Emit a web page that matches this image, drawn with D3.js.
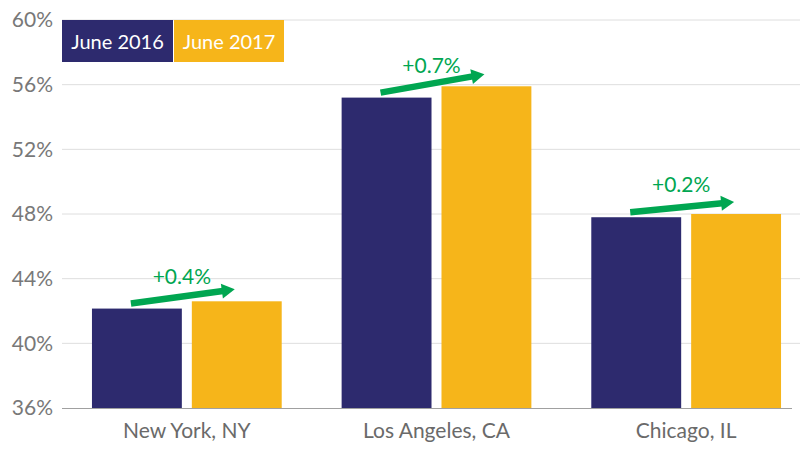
<!DOCTYPE html>
<html><head><meta charset="utf-8">
<script src="https://cdn.jsdelivr.net/npm/d3@7"></script>
<style>body{margin:0;background:#fff}svg{display:block;font-family:Lato,"Open Sans",sans-serif;font-weight:400}</style>
</head><body><svg id="c" width="800" height="450"></svg>
<script>
const categories = ["New York, NY", "Los Angeles, CA", "Chicago, IL"];
const seriesNames = ["June 2016", "June 2017"];
const june2016 = [42.15, 55.2, 47.8];
const june2017 = [42.6, 55.9, 48.0];
const changeLabels = ["+0.4%", "+0.7%", "+0.2%"];
const yTicks = [36, 40, 44, 48, 52, 56, 60];
const colors = ["#2d2a6e", "#f6b51a"];
const green = "#00a651";

const svg = d3.select("#c");
const y = d3.scaleLinear().domain([36, 60]).range([408, 20]);
const x0 = d3.scaleBand().domain(categories).range([62, 811]).paddingInner(0.24).paddingOuter(0.12);
const x1 = d3.scaleBand().domain(seriesNames).range([0, x0.bandwidth()]).paddingInner(0.1);

// grid
const yAxis = d3.axisLeft(y).tickValues(yTicks).tickFormat(d => d + "%").tickSize(0).tickPadding(9);
const ga = svg.append("g").attr("transform", "translate(53,0)").call(yAxis);
ga.select(".domain").remove();
ga.selectAll("text").attr("font-size", 21).attr("fill", "#787878").attr("font-family", "Lato, sans-serif")
  .attr("dx", 9);
svg.append("g").selectAll("line").data(yTicks.filter(t => t > 36)).join("line")
  .attr("x1", 62).attr("x2", 800).attr("y1", d => y(d)).attr("y2", d => y(d))
  .attr("stroke", "#dedede").attr("stroke-width", 1);

const data = categories.map((c, i) => ({c, vals: [june2016[i], june2017[i]], label: changeLabels[i]}));

const groups = svg.append("g").selectAll("g").data(data).join("g")
  .attr("transform", d => `translate(${x0(d.c)},0)`);
groups.selectAll("rect").data(d => d.vals.map((v, j) => ({v, j}))).join("rect")
  .attr("x", d => x1(seriesNames[d.j])).attr("width", x1.bandwidth())
  .attr("y", d => y(d.v)).attr("height", d => y(36) - y(d.v))
  .attr("fill", d => colors[d.j]);

// baseline axis
svg.append("line").attr("x1", 62).attr("x2", 792).attr("y1", y(36) + 0.5).attr("y2", y(36) + 0.5)
  .attr("stroke", "#a0a0a0").attr("stroke-width", 1);

// category labels
const xAxis = d3.axisBottom(x0).tickSize(0).tickPadding(0);
const gx = svg.append("g").attr("transform", `translate(0,${y(36)})`).call(xAxis);
gx.select(".domain").remove();
gx.selectAll("text").attr("font-size", 21).attr("fill", "#6a6a6a").attr("font-family", "Lato, sans-serif")
  .attr("dy", null).attr("y", 30);

// arrows and change labels
data.forEach(d => {
  const gx0 = x0(d.c);
  const sx = gx0 + x1(seriesNames[0]) + x1.bandwidth() / 2 - 6;
  const sy = y(d.vals[0]) - 5;
  const ex = gx0 + x1(seriesNames[1]) + x1.bandwidth() / 2 - 2;
  const ey = y(d.vals[1]) - 12;
  const ang = Math.atan2(ey - sy, ex - sx);
  const headLen = 13, headW = 7.5;
  const bx = ex - headLen * Math.cos(ang), by = ey - headLen * Math.sin(ang);
  svg.append("line").attr("x1", sx).attr("y1", sy).attr("x2", bx + Math.cos(ang)).attr("y2", by + Math.sin(ang))
    .attr("stroke", green).attr("stroke-width", 6.5);
  const px = -Math.sin(ang), py = Math.cos(ang);
  svg.append("polygon").attr("points", [
    [ex, ey], [bx + px * headW, by + py * headW], [bx - px * headW, by - py * headW]
  ].map(p => p.join(",")).join(" ")).attr("fill", green);
  svg.append("text").attr("x", gx0 + x0.bandwidth() / 2 - 5).attr("y", y(d.vals[0]) - 25)
    .attr("text-anchor", "middle").attr("font-size", 21).attr("fill", green).text(d.label);
});

// legend
const lg = svg.append("g");
const legX = [62, 174], legW = [111, 110];
seriesNames.forEach((s, i) => {
  lg.append("rect").attr("x", legX[i]).attr("y", 20).attr("width", legW[i]).attr("height", 42).attr("fill", colors[i]);
  lg.append("text").attr("x", legX[i] + legW[i] / 2).attr("y", 49).attr("text-anchor", "middle")
    .attr("font-size", 20).attr("fill", "#fff").text(s);
});
</script></body></html>
